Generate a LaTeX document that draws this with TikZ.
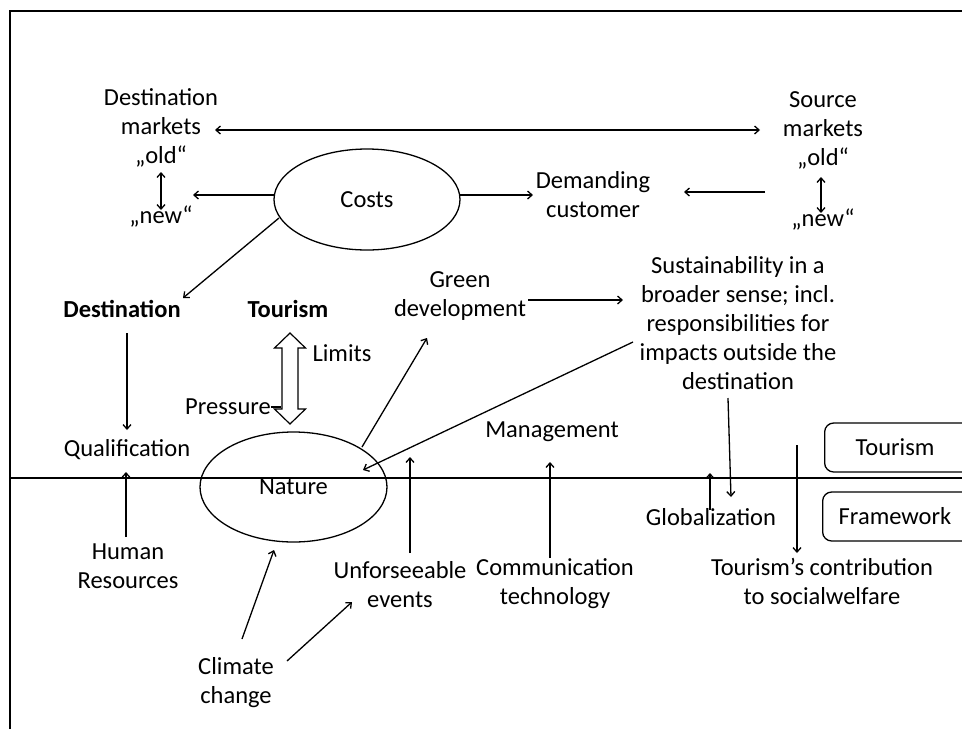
\documentclass[tikz,border=0pt]{standalone}
\usepackage{fontspec}
\setmainfont{Carlito}
\usetikzlibrary{calc,arrows.meta,shapes.geometric}
\begin{document}
\begin{tikzpicture}[x=1pt,y=-1pt,
  lbl/.style={font=\fontsize{24.5}{29}\selectfont, align=center, inner sep=0pt},
  bl/.style={font=\fontsize{24.5}{29}\selectfont\bfseries, align=center, inner sep=0pt},
  ell/.style={draw, ellipse, line width=1.3pt, inner sep=0pt, font=\fontsize{24.5}{29}\selectfont},
  rbox/.style={draw, rounded corners=9pt, line width=1.3pt, anchor=west, minimum height=49pt, minimum width=180pt, inner sep=0pt},
  arr/.style={-{Straight Barb[length=4.5pt,width=8pt]}, line width=1.3pt},
  darr/.style={{Straight Barb[length=4.5pt,width=8pt]}-{Straight Barb[length=4.5pt,width=8pt]}, line width=1.3pt},
  plain/.style={line width=1.3pt},
  framel/.style={line width=2pt},
]
\useasboundingbox (0,0) rectangle (962,729);
\clip (0,0) rectangle (962,729);

% frame and dividing line
\draw[framel] (10,729) -- (10,11) -- (962,11);
\draw[line width=1.5pt] (10,478) -- (962,478);

% nodes
\node[lbl] (dm) at (161,128) {Destination\\markets\\„old“};
\node[lbl] (dmnew) at (161,216) {„new“};
\node[ell, minimum width=186pt, minimum height=101pt] (costs) at (367,199.5) {Costs};
\node[lbl] (dc) at (593,194.5) {Demanding\\customer};
\node[lbl] (sm) at (823,130.5) {Source\\markets\\„old“};
\node[lbl] (smnew) at (823,219) {„new“};
\node[bl] (dest) at (122,309) {Destination};
\node[bl] (tour) at (288,309) {Tourism};
\node[lbl] (qual) at (127,450) {Qualification};
\node[lbl] (hr) at (128,566) {Human\\Resources};
\node[ell, minimum width=187pt, minimum height=110pt] (nature) at (293.5,487) {Nature};
\node[lbl] (limits) at (342,353) {Limits};
\node[lbl] (pressure) at (228,407) {Pressure};
\node[lbl] (green) at (460,296.5) {Green\\development};
\node[lbl] (sust) at (738,323.5) {Sustainability in a\\broader sense; incl.\\responsibilities for\\impacts outside the\\destination};
\node[lbl] (mgmt) at (552,432) {Management};
\node[lbl] (unf) at (400,585) {Unforseeable\\events};
\node[lbl] (comm) at (555,584) {Communication\\technology};
\node[lbl] (climate) at (236,682.5) {Climate\\change};
\node[lbl] (glob) at (711,517) {Globalization};
\node[lbl] (tsw) at (822,581) {Tourism’s contribution\\to socialwelfare};
\node[rbox] (tbox) at (824,447.5) {};
\node[lbl] (tboxt) at (895,447) {Tourism};
\node[rbox] (fbox) at (822,516.5) {};
\node[lbl] (fboxt) at (895,516) {Framework};

% hollow double arrow (pressure / limits)
\coordinate (ht) at ($(tour)+(2,24)$);
\draw[line width=1.2pt] (ht) -- ++(15.5,15) -- ++(-7.5,0) -- ++(0,61) -- ++(7.5,0) -- ++(-15.5,15)
  -- ++(-15.5,-15) -- ++(7.5,0) -- ++(0,-61) -- ++(-7.5,0) -- cycle;
\draw[plain] (pressure.east) -- ++(10,0);

% connectors
\draw[darr] ($(dm)+(54,2)$) -- ($(sm)+(-63,-0.5)$);
\draw[darr] ($(dm)+(0,44)$) -- ($(dmnew)+(0,-6)$);
\draw[darr] ($(sm)+(-2,46.5)$) -- ($(smnew)+(-2,-6)$);
\draw[arr] ($(costs)+(-93,-4.5)$) -- ($(dm)+(32,67)$);
\draw[arr] ($(costs)+(93,-4.5)$) -- ($(dc)+(-60,0.5)$);
\draw[arr] ($(sm)+(-58,61.5)$) -- ($(dc)+(91,-2.5)$);
\draw[arr] ($(costs)+(-88,18.5)$) -- ($(dest)+(61,-11)$);
\draw[arr] ($(dest)+(5,24)$) -- ($(qual)+(0,-20)$);
\draw[arr] ($(hr)+(-2,-29)$) -- ($(qual)+(-1,22)$);
\draw[arr] ($(nature)+(68.5,-40)$) -- ($(green)+(-33,41.5)$);
\draw[arr] ($(green)+(68,3.5)$) -- ($(sust)+(-115,-23.5)$);
\draw[arr] ($(sust)+(-105,18.5)$) -- ($(nature)+(69.5,-17)$);
\draw[arr] ($(unf)+(10,-32)$) -- ++(0,-96);
\draw[arr] ($(comm)+(-5,-26)$) -- ($(mgmt)+(-2,30)$);
\draw[arr] ($(climate)+(6,-43.5)$) -- ($(nature)+(-19.5,63)$);
\draw[arr] ($(climate)+(51,-21.5)$) -- ($(unf)+(-48,17)$);
\draw[arr] ($(glob)+(-1,-7)$) -- ++(0,-37);
\draw[arr] ($(sust)+(-10,74.5)$) -- ($(glob)+(20,-20)$);
\draw[arr] ($(tsw)+(-25,-136)$) -- ($(tsw)+(-25,-28)$);
\end{tikzpicture}
\end{document}
